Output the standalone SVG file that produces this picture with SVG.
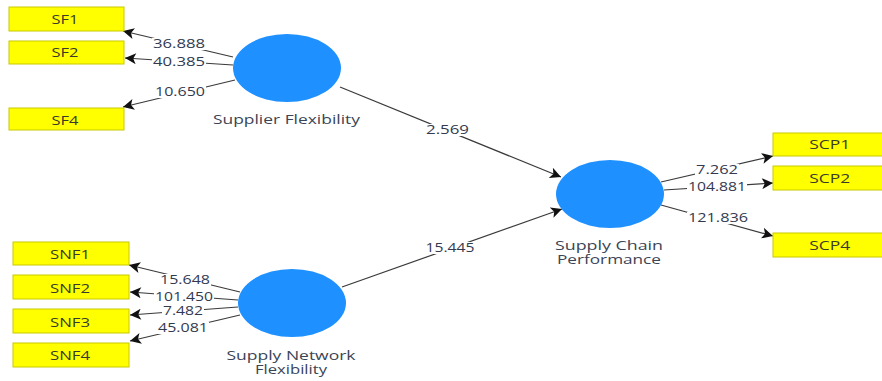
<svg xmlns="http://www.w3.org/2000/svg" width="882" height="381" viewBox="0 0 882 381">
<defs>
<marker id="ah" viewBox="0 0 10 10" refX="10" refY="5" markerWidth="12" markerHeight="11" markerUnits="userSpaceOnUse" orient="auto">
<path d="M0,0 L10,5 L0,10 L2.5,5 Z" fill="#111"/>
</marker>
</defs>
<style>
.box{fill:#FFFF00;stroke:#C9C900;stroke-width:1}
.bt{font-family:"Open Sans","Noto Sans",sans-serif;font-size:13px;fill:#3a3a2a;text-anchor:middle}
.lv{fill:#1E90FF}
.lt{font-family:"Open Sans","Noto Sans",sans-serif;font-size:12.5px;fill:#3a4455;text-anchor:middle}
.ln{stroke:#3a3a3a;stroke-width:1.2;fill:none;marker-end:url(#ah)}
.bg{fill:#fff}
.el{font-family:"Open Sans","Noto Sans",sans-serif;font-size:12px;fill:#333a50;text-anchor:middle}
</style>
<rect width="882" height="381" fill="#fff"/>
<g id="connectors">
<line class="ln" x1="233" y1="57" x2="123" y2="31"/>
<line class="ln" x1="233" y1="65" x2="125" y2="58"/>
<line class="ln" x1="235" y1="80" x2="123" y2="107"/>
<line class="ln" x1="340" y1="87" x2="561" y2="177"/>
<line class="ln" x1="342" y1="287" x2="562" y2="209"/>
<line class="ln" x1="661" y1="182" x2="773" y2="156"/>
<line class="ln" x1="664" y1="190" x2="773" y2="183"/>
<line class="ln" x1="661" y1="205" x2="773" y2="236"/>
<line class="ln" x1="240" y1="292" x2="129" y2="265"/>
<line class="ln" x1="238" y1="300" x2="130" y2="292"/>
<line class="ln" x1="238" y1="307" x2="130" y2="315"/>
<line class="ln" x1="240" y1="315" x2="130" y2="341"/>
<rect class="bg" x="152" y="38" width="54" height="12"/><text class="el" x="179" y="48.3" textLength="52" lengthAdjust="spacingAndGlyphs">36.888</text>
<rect class="bg" x="152" y="56" width="54" height="12"/><text class="el" x="179" y="66.3" textLength="52" lengthAdjust="spacingAndGlyphs">40.385</text>
<rect class="bg" x="154" y="86" width="52" height="12"/><text class="el" x="180" y="96.3" textLength="50" lengthAdjust="spacingAndGlyphs">10.650</text>
<rect class="bg" x="425" y="124" width="45" height="12"/><text class="el" x="447.5" y="134.3" textLength="43" lengthAdjust="spacingAndGlyphs">2.569</text>
<rect class="bg" x="425" y="242" width="51" height="12"/><text class="el" x="450" y="252.3" textLength="49" lengthAdjust="spacingAndGlyphs">15.445</text>
<rect class="bg" x="695" y="164" width="44" height="12"/><text class="el" x="717" y="174.3" textLength="42" lengthAdjust="spacingAndGlyphs">7.262</text>
<rect class="bg" x="687" y="181" width="60" height="12"/><text class="el" x="717" y="191" textLength="58" lengthAdjust="spacingAndGlyphs">104.881</text>
<rect class="bg" x="687" y="212" width="62" height="12"/><text class="el" x="718" y="222.3" textLength="60" lengthAdjust="spacingAndGlyphs">121.836</text>
<rect class="bg" x="159" y="274" width="52" height="12"/><text class="el" x="185" y="284.3" textLength="50" lengthAdjust="spacingAndGlyphs">15.648</text>
<rect class="bg" x="154" y="290" width="60" height="12"/><text class="el" x="184" y="300.5" textLength="58" lengthAdjust="spacingAndGlyphs">101.450</text>
<rect class="bg" x="162" y="305" width="42" height="12"/><text class="el" x="183" y="314.8" textLength="40" lengthAdjust="spacingAndGlyphs">7.482</text>
<rect class="bg" x="157" y="322" width="52" height="12"/><text class="el" x="183" y="332.3" textLength="50" lengthAdjust="spacingAndGlyphs">45.081</text>
</g>
<g id="SF1"><rect class="box" x="9" y="7" width="115" height="24"/><text class="bt" x="65" y="24.3" textLength="27" lengthAdjust="spacingAndGlyphs">SF1</text></g>
<g id="SF2"><rect class="box" x="9" y="41" width="115" height="23"/><text class="bt" x="65" y="57.4" textLength="27" lengthAdjust="spacingAndGlyphs">SF2</text></g>
<g id="SF4"><rect class="box" x="9" y="108" width="115" height="22"/><text class="bt" x="65" y="124.6" textLength="27" lengthAdjust="spacingAndGlyphs">SF4</text></g>
<g id="SNF1"><rect class="box" x="13" y="242" width="116" height="23"/><text class="bt" x="70" y="259.3" textLength="40" lengthAdjust="spacingAndGlyphs">SNF1</text></g>
<g id="SNF2"><rect class="box" x="13" y="275" width="116" height="24"/><text class="bt" x="70" y="292.6" textLength="40" lengthAdjust="spacingAndGlyphs">SNF2</text></g>
<g id="SNF3"><rect class="box" x="13" y="309" width="116" height="24"/><text class="bt" x="70" y="326.6" textLength="40" lengthAdjust="spacingAndGlyphs">SNF3</text></g>
<g id="SNF4"><rect class="box" x="13" y="343" width="116" height="24"/><text class="bt" x="70" y="360" textLength="40" lengthAdjust="spacingAndGlyphs">SNF4</text></g>
<g id="SCP1"><rect class="box" x="773" y="133" width="115" height="23"/><text class="bt" x="829.7" y="149.3" textLength="41" lengthAdjust="spacingAndGlyphs">SCP1</text></g>
<g id="SCP2"><rect class="box" x="773" y="166" width="115" height="24"/><text class="bt" x="829.7" y="182.6" textLength="41" lengthAdjust="spacingAndGlyphs">SCP2</text></g>
<g id="SCP4"><rect class="box" x="773" y="233" width="115" height="24"/><text class="bt" x="829.7" y="250" textLength="41" lengthAdjust="spacingAndGlyphs">SCP4</text></g>
<g id="SupplierFlexibility"><ellipse class="lv" cx="287" cy="68" rx="54" ry="34"/><text class="lt" x="286.5" y="123.5" textLength="147" lengthAdjust="spacingAndGlyphs">Supplier Flexibility</text></g>
<g id="SupplyNetworkFlexibility"><ellipse class="lv" cx="292" cy="303" rx="54" ry="34"/><text class="lt" x="291" y="360" textLength="129" lengthAdjust="spacingAndGlyphs">Supply Network</text><text class="lt" x="291" y="374" textLength="72" lengthAdjust="spacingAndGlyphs">Flexibility</text></g>
<g id="SupplyChainPerformance"><ellipse class="lv" cx="610" cy="194" rx="54" ry="34"/><text class="lt" x="609" y="250" textLength="108" lengthAdjust="spacingAndGlyphs">Supply Chain</text><text class="lt" x="609" y="264" textLength="104" lengthAdjust="spacingAndGlyphs">Performance</text></g>
</svg>
